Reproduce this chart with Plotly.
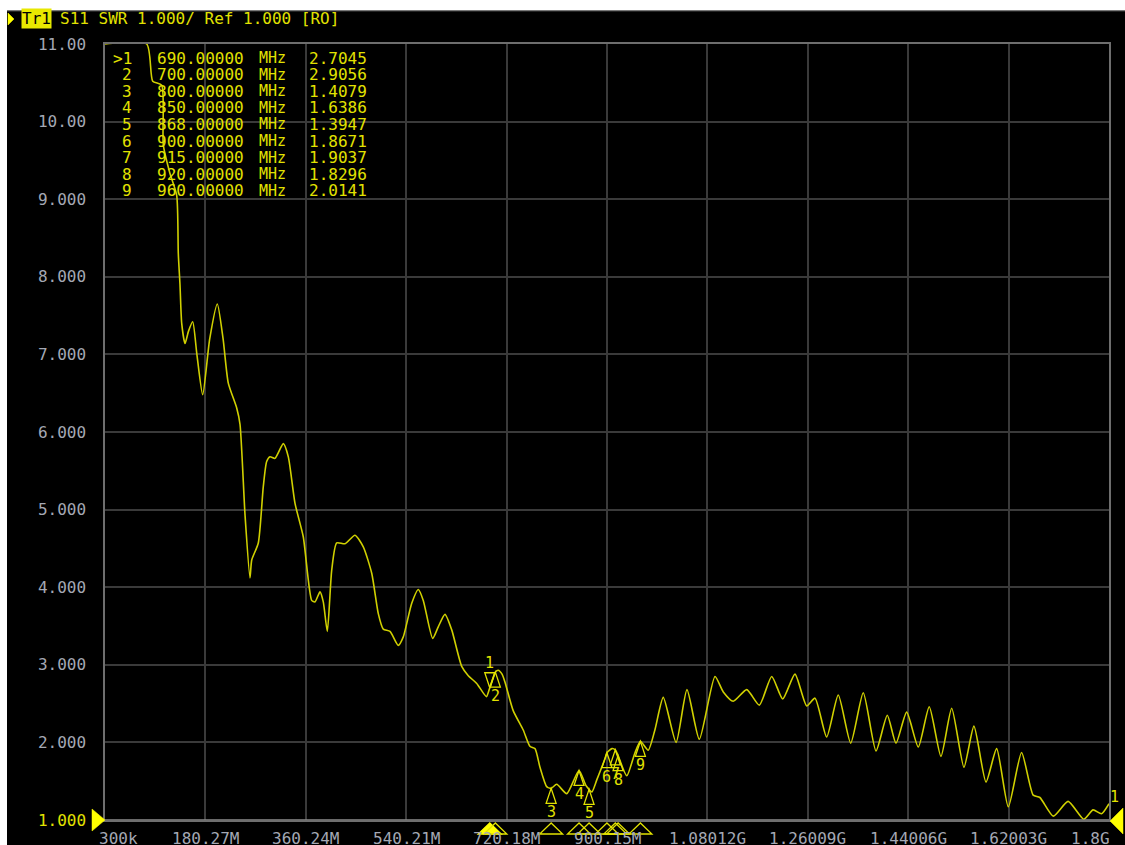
import plotly.graph_objects as go

# ---------------- data ----------------
freq_mhz = [0.3, 75.0, 85.8, 101.9, 104.8, 116.0, 128.8, 131.7, 134.7, 137.8, 143.7, 150.0,
            157.5, 165.0, 175.4, 188.0, 201.6, 212.0, 221.3, 236.4, 242.3, 251.3, 260.2,
            263.3, 275.1, 284.1, 290.1, 296.1, 305.0, 319.9, 328.9, 340.9, 355.7, 370.8,
            376.7, 385.7, 391.6, 398.8, 406.7, 415.6, 430.5, 448.4, 463.3, 478.4, 490.2,
            499.1, 511.2, 526.0, 535.0, 550.0, 561.9, 570.8, 587.7, 597.7, 609.7, 621.8,
            639.7, 651.5, 666.6, 684.0, 690.0, 700.0, 705.0, 712.0, 718.0, 732.0, 750.0,
            762.0, 771.0, 780.0, 792.0, 800.0, 810.0, 828.0, 850.0, 862.0, 868.0, 873.0,
            882.0, 897.0, 900.0, 909.0, 915.0, 920.0, 935.6, 950.0, 960.0, 974.0, 986.0,
            1001.0, 1024.0, 1043.5, 1065.6, 1093.7, 1108.6, 1126.5, 1150.6, 1173.1, 1195.4,
            1215.1, 1237.1, 1258.1, 1273.0, 1293.9, 1314.7, 1337.0, 1359.5, 1382.3, 1402.6,
            1418.2, 1437.3, 1458.1, 1477.8, 1498.8, 1518.0, 1540.0, 1557.9, 1579.5, 1598.6,
            1619.5, 1643.3, 1664.1, 1676.1, 1700.1, 1726.7, 1754.9, 1771.5, 1786.6, 1800.0]
swr = [11.0, 11.0, 10.52, 10.47, 9.7, 9.35, 9.05, 8.3, 7.9, 7.4, 7.14, 7.3,
       7.42, 7.0, 6.48, 7.2, 7.65, 7.2, 6.63, 6.31, 6.1, 4.93, 4.12,
       4.35, 4.57, 5.30, 5.62, 5.68, 5.66, 5.85, 5.68, 5.08, 4.65, 3.83,
       3.81, 3.94, 3.81, 3.43, 4.22, 4.57, 4.56, 4.67, 4.52, 4.18, 3.66,
       3.46, 3.43, 3.25, 3.36, 3.79, 3.97, 3.83, 3.34, 3.49, 3.65, 3.45,
       2.98, 2.86, 2.76, 2.59, 2.7045, 2.9056, 2.93, 2.88, 2.76, 2.41, 2.16,
       1.95, 1.92, 1.68, 1.43, 1.4079, 1.46, 1.34, 1.6386, 1.45, 1.3947, 1.36,
       1.52, 1.80, 1.8671, 1.92, 1.9037, 1.8296, 1.57, 1.86, 2.0141, 1.90, 2.16,
       2.58, 2.0, 2.68, 2.04, 2.85, 2.65, 2.53, 2.68, 2.48, 2.85,
       2.56, 2.88, 2.47, 2.57, 2.07, 2.61, 1.99, 2.64, 1.89, 2.35,
       1.99, 2.39, 1.94, 2.46, 1.82, 2.44, 1.68, 2.21, 1.49, 1.92,
       1.17, 1.87, 1.32, 1.29, 1.05, 1.24, 1.01, 1.13, 1.08, 1.21]

marker_ids = [1, 2, 3, 4, 5, 6, 7, 8, 9]
marker_freq = [690.0, 700.0, 800.0, 850.0, 868.0, 900.0, 915.0, 920.0, 960.0]
marker_swr = [2.7045, 2.9056, 1.4079, 1.6386, 1.3947, 1.8671, 1.9037, 1.8296, 2.0141]

x_tick_vals = [0.3, 180.27, 360.24, 540.21, 720.18, 900.15, 1080.12, 1260.09, 1440.06, 1620.03, 1800.0]
x_tick_text = ["300k", "180.27M", "360.24M", "540.21M", "720.18M", "900.15M",
               "1.08012G", "1.26009G", "1.44006G", "1.62003G", "1.8G"]
y_tick_vals = [1, 2, 3, 4, 5, 6, 7, 8, 9, 10, 11]
y_tick_text = ["1.000", "2.000", "3.000", "4.000", "5.000", "6.000", "7.000",
               "8.000", "9.000", "10.00", "11.00"]

header_text = "S11 SWR 1.000/ Ref 1.000 [RO]"

# ---------------- layout helpers ----------------
W, H = 1125, 845
SL, SR, ST, SB = 105, 1109, 44, 820          # plot-area edges in window pixels
L, T = SL, ST
PW, PH = SR - SL, SB - ST
R, B = W - L - PW, H - T - PH


def px_x(sx):
    return (sx - SL) / PW


def px_y(sy):
    return (SB - sy) / PH


YEL = "#e2e200"
BRIGHT = "#ffff00"
TRACE = "#d0d000"
GRAY_TXT = "#a4a8b4"
MONO = "DejaVu Sans Mono"

fig = go.Figure()
fig.add_trace(go.Scatter(x=freq_mhz, y=swr, mode="lines",
                         line=dict(color=TRACE, width=1.6, shape="spline", smoothing=0.6),
                         hoverinfo="skip", showlegend=False))

ann = []
shapes = []


def pix_path(path, xref, yref, xa, ya, fill=None, color=YEL, width=1.3):
    d = dict(type="path", xref=xref, yref=yref, xsizemode="pixel", ysizemode="pixel",
             xanchor=xa, yanchor=ya, path=path, layer="above",
             line=dict(color=color, width=width))
    if fill:
        d["fillcolor"] = fill
    return d


# white strips at top and left of the screenshot, thin gray edge line
shapes.append(dict(type="rect", xref="paper", yref="paper", x0=px_x(-5), x1=px_x(1130),
                   y0=px_y(10.5), y1=px_y(-5), fillcolor="white", line_width=0, layer="above"))
shapes.append(dict(type="rect", xref="paper", yref="paper", x0=px_x(-5), x1=px_x(7),
                   y0=px_y(850), y1=px_y(-5), fillcolor="white", line_width=0, layer="above"))
shapes.append(dict(type="line", xref="paper", yref="paper", x0=px_x(7), x1=px_x(1130),
                   y0=px_y(10.8), y1=px_y(10.8), line=dict(color="#777777", width=1), layer="above"))
# brighter bottom baseline
shapes.append(dict(type="line", xref="paper", yref="y", x0=0, x1=1, y0=1, y1=1,
                   line=dict(color="#8c8c8c", width=1.5), layer="above"))

# header
shapes.append(pix_path("M0,0L-6,6L-6,-6Z", "paper", "paper", px_x(14), px_y(19),
                       fill=BRIGHT, color=BRIGHT, width=0.5))
ann.append(dict(xref="paper", yref="paper", x=px_x(21), y=px_y(19), text="Tr1", showarrow=False,
                xanchor="left", yanchor="middle", bgcolor="#e8e800", borderpad=0,
                font=dict(family=MONO, size=16, color="#000000")))
ann.append(dict(xref="paper", yref="paper", x=px_x(58), y=px_y(19), text=header_text, showarrow=False,
                xanchor="left", yanchor="middle", font=dict(family=MONO, size=16, color=YEL)))

# marker table
for i, (mid, mf, ms) in enumerate(zip(marker_ids, marker_freq, marker_swr)):
    yy = px_y(58 + i * 16.6)
    lab = (">" if i == 0 else "") + str(mid)
    ann.append(dict(xref="paper", yref="paper", x=px_x(134), y=yy, text=lab, showarrow=False,
                    xanchor="right", yanchor="middle", font=dict(family=MONO, size=16, color=YEL)))
    ann.append(dict(xref="paper", yref="paper", x=px_x(155), y=yy, text=f"{mf:.5f}", showarrow=False,
                    xanchor="left", yanchor="middle", font=dict(family=MONO, size=16, color=YEL)))
    ann.append(dict(xref="paper", yref="paper", x=px_x(257), y=yy, text="MHz", showarrow=False,
                    xanchor="left", yanchor="middle", font=dict(family=MONO, size=15, color=YEL)))
    ann.append(dict(xref="paper", yref="paper", x=px_x(307), y=yy, text=f"{ms:.4f}", showarrow=False,
                    xanchor="left", yanchor="middle", font=dict(family=MONO, size=16, color=YEL)))

# markers on trace + indicators along the bottom axis
for mid, mf, ms in zip(marker_ids, marker_freq, marker_swr):
    if mid == 1:
        shapes.append(pix_path("M0,0L-5,15L5,15Z", "x", "y", mf, ms))
        ann.append(dict(x=mf, y=ms, text=str(mid), showarrow=False, xanchor="center", yanchor="middle",
                        yshift=25, font=dict(family=MONO, size=15, color=YEL)))
    else:
        shapes.append(pix_path("M0,0L-5,-15L5,-15Z", "x", "y", mf, ms))
        ann.append(dict(x=mf, y=ms, text=str(mid), showarrow=False, xanchor="center", yanchor="middle",
                        yshift=-24, font=dict(family=MONO, size=15, color=YEL)))
    shapes.append(pix_path("M0,-3L-11.5,-14L11.5,-14Z", "x", "paper", mf, 0,
                           fill=BRIGHT if mid == 1 else None,
                           color=BRIGHT if mid == 1 else YEL))

# x tick labels
for i, (tv, tt) in enumerate(zip(x_tick_vals, x_tick_text)):
    xa = "center"
    xs = 0
    if i == 0:
        xa, xs = "left", -8
    elif i == len(x_tick_vals) - 1:
        xa, xs = "right", 3
    ann.append(dict(x=tv, xref="x", yref="paper", y=0, text=tt, showarrow=False,
                    xanchor=xa, xshift=xs, yanchor="top", yshift=-7,
                    font=dict(family=MONO, size=16, color=GRAY_TXT)))

# reference level arrows (left and right)
shapes.append(pix_path("M0,0L-13,11L-13,-11Z", "paper", "paper", 0, 0,
                       fill=BRIGHT, color=BRIGHT, width=0.5))
shapes.append(pix_path("M1,-1L14,12L14,-14Z", "paper", "paper", 1, 0,
                       fill=BRIGHT, color=BRIGHT, width=0.5))
ann.append(dict(xref="paper", yref="y", x=px_x(1108), y=swr[-1], text="1", showarrow=False,
                xanchor="left", yanchor="bottom", yshift=-4, font=dict(family=MONO, size=15, color=YEL)))

y_ticktext_colored = [f"<span style='color:{YEL}'>{t}</span>" if v == 1 else t
                      for v, t in zip(y_tick_vals, y_tick_text)]

fig.update_layout(
    width=W, height=H,
    margin=dict(l=L, r=R, t=T, b=B, pad=0),
    paper_bgcolor="black", plot_bgcolor="black",
    showlegend=False,
    xaxis=dict(range=[0.3, 1800.0], tickvals=x_tick_vals, showticklabels=False,
               showgrid=True, gridcolor="#3a3a3a", gridwidth=1.5, zeroline=False,
               showline=True, linecolor="#6e6e6e", linewidth=1.5, mirror=True, ticks=""),
    yaxis=dict(range=[1, 11], tickvals=y_tick_vals, ticktext=y_ticktext_colored,
               showgrid=True, gridcolor="#3a3a3a", gridwidth=1.5, zeroline=False,
               showline=True, linecolor="#6e6e6e", linewidth=1.5, mirror=True, ticks="",
               ticklabelstandoff=14,
               tickfont=dict(family=MONO, size=16, color=GRAY_TXT)),
    annotations=ann,
    shapes=shapes,
)

# remove the default page margin/scrollbars so the figure fills the window exactly
fig.write_html("out.html",
               config={"displayModeBar": False},
               post_script="document.body.style.margin='0';document.body.style.overflow='hidden';")
